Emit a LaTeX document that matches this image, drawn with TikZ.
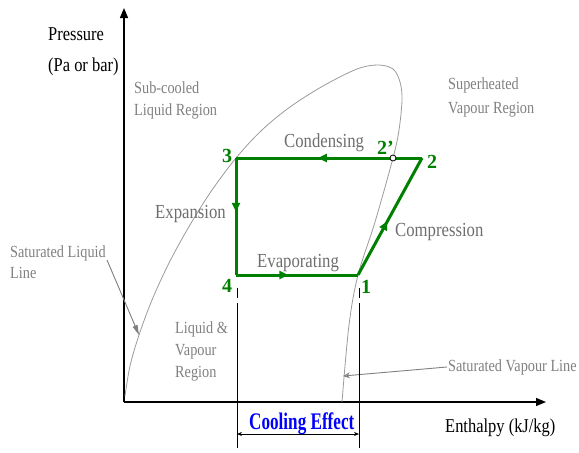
\documentclass[tikz,border=0pt]{standalone}
\usepackage{fontspec}
\setmainfont{Liberation Serif}[FakeStretch=0.84]
\newfontfamily\numfont{Liberation Serif}
\newfontfamily\coolfont{Liberation Serif}[FakeStretch=0.72]
\usetikzlibrary{arrows.meta,decorations.markings}
\definecolor{cyc}{RGB}{0,128,0}
\definecolor{lbl}{RGB}{128,128,128}
\definecolor{plbl}{RGB}{110,110,110}
\definecolor{dome}{RGB}{155,155,155}
\tikzset{
  txt/.style={inner sep=0pt,anchor=base west},
  region/.style={txt,text=lbl,font=\fontsize{17}{20}\selectfont},
  proc/.style={txt,text=plbl,font=\fontsize{19.9}{22}\selectfont},
  axlbl/.style={txt,text=black,font=\fontsize{19.6}{22}\selectfont},
  num/.style={txt,text=cyc,font=\numfont\bfseries\fontsize{20}{22}\selectfont},
  cycline/.style={draw=cyc,line width=3pt,line join=miter},
  midarrow/.style={postaction={decorate,decoration={markings,
     mark=at position #1 with {\arrow{Triangle[length=9pt,width=8pt]}}}}},
  axis/.style={draw=black,line width=1.3pt,-{Triangle[length=10pt,width=8pt]}},
  pointer/.style={draw=lbl,line width=0.9pt},
}
\begin{document}
\begin{tikzpicture}[x=1pt,y=-1pt]
\useasboundingbox (0,0) rectangle (579,453);

% axes
\coordinate (O) at (124,402);
\coordinate (Ytop) at (124,8);
\coordinate (Xend) at (546,402);
\draw[axis] (O) -- (Ytop);
\draw[axis] (O) -- (Xend);

% saturation dome
\draw[dome,line width=0.8pt] plot[smooth,tension=0.55] coordinates {
 (125,396) (130,366) (139,335) (152,300) (168,265) (187,230) (210,193)
 (236,158) (262,130) (290,107) (323,86) (357,69) (378,65) (393,69)
 (400,82) (402,100) (399,130) (393,158) (375,222) (358,275)
 (349,325) (342,402)};

% cycle points
\coordinate (p3) at (236,158);
\coordinate (p2p) at (393,158);
\coordinate (p2) at (422,158);
\coordinate (p1) at (358,275);
\coordinate (p4) at (236,275);

\draw[cycline,midarrow=0.46] (p3) -- (p4);
\draw[cycline,midarrow=0.43] (p4) -- (p1);
\draw[cycline,midarrow=0.46] (p1) -- (p2);
\draw[cycline,midarrow=0.56] (p2) -- (p3);
\node[circle,draw=black,fill=white,inner sep=0pt,minimum size=6pt,line width=0.8pt] (c2p) at (p2p) {};

% point labels
\node[num] (n3) at (222,162) {3};
\node[num] (n2p) at (377,154) {2’};
\node[num] (n2) at (427,168) {2};
\node[num] (n1) at (361,293) {1};
\node[num] (n4) at (222,292) {4};

% process labels
\node[proc] (cond) at (284,147) {Condensing};
\node[proc] (expa) at (155,218) {Expansion};
\node[proc] (comp) at (395,236) {Compression};
\node[proc] (evap) at (257,267) {Evaporating};

% axis labels
\node[axlbl] (pr1) at (48,40) {Pressure};
\node[axlbl] (pr2) at (48,71) {(Pa or bar)};
\node[axlbl] (enth) at (445,432) {Enthalpy (kJ/kg)};

% region labels
\node[region] (sc1) at (134,93) {Sub-cooled};
\node[region] (sc2) at (134,115) {Liquid Region};
\node[region] (sh1) at (448,89) {Superheated};
\node[region] (sh2) at (448,113) {Vapour Region};
\node[region] (lv1) at (175,333) {Liquid \&};
\node[region] (lv2) at (175,355) {Vapour};
\node[region] (lv3) at (175,377) {Region};
\node[region] (sl1) at (10,257) {Saturated Liquid};
\node[region] (sl2) at (10,278) {Line};
\node[region] (sv) at (448,371) {Saturated Vapour Line};

% pointers
\coordinate (slA) at (107,260);
\coordinate (slB) at (139,335);
\draw[pointer,-{Triangle[length=10pt,width=5pt]},draw=lbl,fill=lbl] (slA) -- (slB);
\coordinate (svA) at (447,367);
\coordinate (svB) at (343,376);
\draw[pointer,-{Stealth[length=7pt,width=6pt,open]}] (svA) -- (svB);

% cooling effect
\coordinate (ceL1) at (237,288);
\coordinate (ceL2) at (237,448);
\coordinate (ceR1) at (359,288);
\coordinate (ceR2) at (359,448);
\draw[black,line width=0.8pt,dash pattern=on 10pt off 5pt on 300pt] (ceL1) -- (ceL2);
\draw[black,line width=0.8pt,dash pattern=on 10pt off 5pt on 300pt] (ceR1) -- (ceR2);
\coordinate (ceA) at (237,434);
\coordinate (ceB) at (359,434);
\draw[black,line width=0.7pt,{Stealth[length=5pt,width=4pt]}-{Stealth[length=5pt,width=4pt]}] (ceA) -- (ceB);
\node[txt,text=blue,font=\coolfont\bfseries\fontsize{23.8}{26}\selectfont] (cool) at (249,429) {Cooling Effect};
\end{tikzpicture}
\end{document}
